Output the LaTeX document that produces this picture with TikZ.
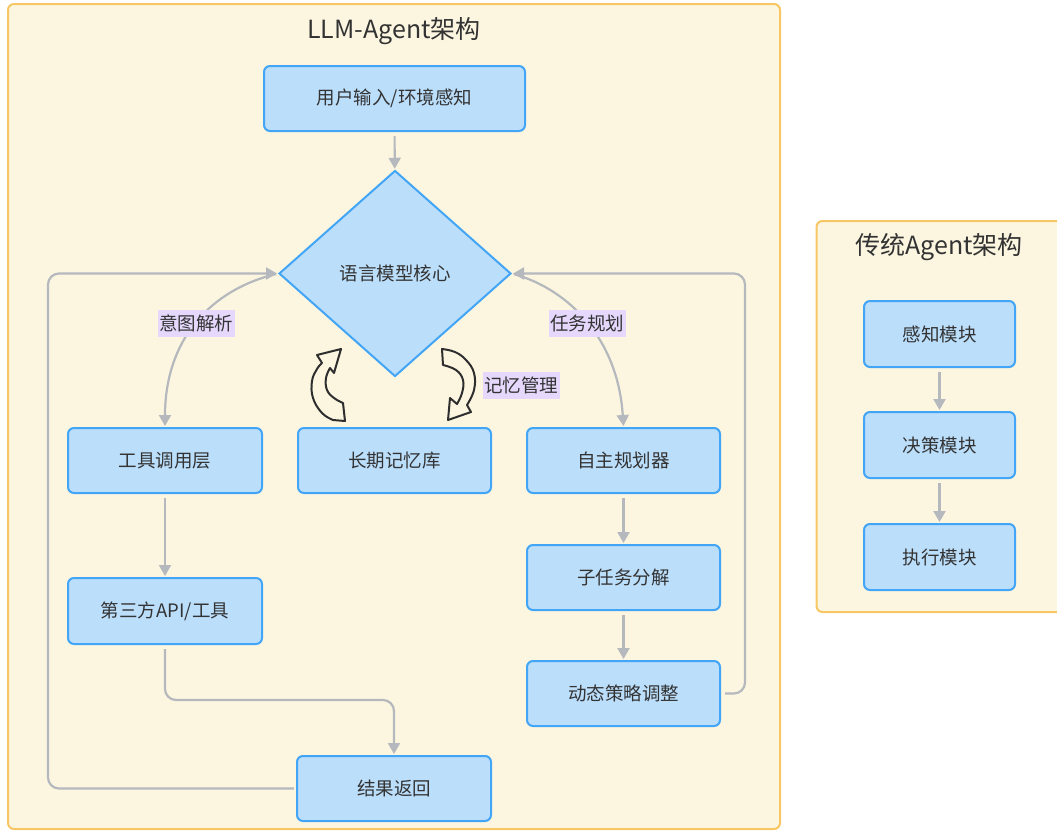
\documentclass[tikz,border=0pt]{standalone}
\usepackage{fontspec}
\setmainfont{Noto Sans CJK SC}
\usetikzlibrary{arrows.meta,shapes.geometric}
\definecolor{cfill}{HTML}{FCF6E0}
\definecolor{cstroke}{HTML}{F8C765}
\definecolor{nfill}{HTML}{BBDEFB}
\definecolor{nstroke}{HTML}{42A5F5}
\definecolor{ecol}{HTML}{B5B8BD}
\definecolor{lfill}{HTML}{E5D8FC}
\definecolor{tcol}{HTML}{333333}
\begin{document}
\begin{tikzpicture}[x=1pt,y=-1pt,
  container/.style={draw=cstroke, fill=cfill, line width=2pt, rounded corners=6pt},
  ctitle/.style={text=tcol, font=\fontsize{25}{30}\selectfont, inner sep=0pt},
  box/.style={draw=nstroke, fill=nfill, line width=2pt, rounded corners=6pt, minimum height=65pt, inner sep=0pt, text=tcol, font=\fontsize{18.5}{22}\selectfont},
  core/.style={shape=diamond, draw=nstroke, fill=nfill, line width=2pt, minimum width=232pt, minimum height=206pt, inner sep=0pt, text=tcol, font=\fontsize{18.5}{22}\selectfont},
  edge/.style={draw=ecol, line width=2.2pt, -{Triangle[length=11pt,width=12pt]}, shorten <=4pt, shorten >=1pt},
  loopedge/.style={edge, rounded corners=11pt},
  elabel/.style={fill=lfill, text=tcol, font=\fontsize{18.5}{22}\selectfont, inner xsep=1.5pt, inner ysep=0pt, minimum height=27pt},
  memarrow/.style={draw=black!82, line width=2pt, line join=round},
]
\clip (0,0) rectangle (1057,830);
\fill[white] (0,0) rectangle (1057,830);

% containers
\draw[container] (8,4) rectangle (780,829);
\draw[container] (816.5,221) rectangle (1080,612);
\node[ctitle] (t1) at (394,31) {LLM-Agent架构};
\node[ctitle] (t2) at (939,247) {传统Agent架构};

% main nodes
\node[box, minimum width=261pt] (input) at (394.5,98.5) {用户输入/环境感知};
\node[core] (core) at (395,273.5) {语言模型核心};
\node[box, minimum width=194pt] (tool) at (165,460.5) {工具调用层};
\node[box, minimum width=193pt] (mem) at (394.5,460.5) {长期记忆库};
\node[box, minimum width=193pt] (plan) at (623.5,460.5) {自主规划器};
\node[box, minimum width=194pt, minimum height=66pt] (api) at (165,611) {第三方API/工具};
\node[box, minimum width=193pt] (sub) at (623.5,577.5) {子任务分解};
\node[box, minimum width=193pt] (strat) at (623.5,693.5) {动态策略调整};
\node[box, minimum width=194pt] (result) at (394,788.5) {结果返回};

% traditional nodes
\node[box, minimum width=151pt, minimum height=66pt] (perc) at (939.5,334) {感知模块};
\node[box, minimum width=151pt, minimum height=66pt] (dec) at (939.5,445) {决策模块};
\node[box, minimum width=151pt, minimum height=66pt] (exe) at (939.5,557) {执行模块};

% edges
\draw[edge] (input) -- (core);
\draw[edge, shorten <=2pt] (core.west) .. controls (210,290) and (165,340) .. (tool.north)
  node[elabel, pos=0.5] (l1) {意图解析};
\draw[edge, shorten <=2pt] (core.east) .. controls (570,290) and (618,340) .. (plan.north)
  node[elabel, pos=0.5] (l2) {任务规划};
\draw[edge] (tool) -- (api);
\draw[edge] (plan) -- (sub);
\draw[edge] (sub) -- (strat);
\draw[loopedge] (api.south) -- (165,700) -| (result.north);
\draw[loopedge, shorten <=2pt] (result.west) -| (48,273.5) -- (core.west);
\draw[loopedge, shorten <=4pt] (strat.east) -| (745,273.5) -- (core.east);
\draw[edge] (perc) -- (dec);
\draw[edge] (dec) -- (exe);

% memory management circular arrows
\draw[memarrow] (333,420) -- plot[smooth, tension=0.7] coordinates {(333,420) (322,413) (313,398) (312,381) (317,369) (322,363)}
  -- (317,355) -- (341,349) -- (334,373)
  -- plot[smooth, tension=0.7] coordinates {(330,368) (326,378) (327,390) (334,398) (343,403)}
  -- (345,421) -- cycle;
\draw[memarrow] (442,349) -- plot[smooth, tension=0.7] coordinates {(442,349) (455,352) (466,360) (474,373) (474,390) (467,405)}
  -- (471,412) -- (448,420) -- (450,398)
  -- plot[smooth, tension=0.7] coordinates {(457,404) (462,393) (463,380) (456,370) (443,365)}
  -- cycle;
\node[elabel] (l3) at (521,385) {记忆管理};
\end{tikzpicture}
\end{document}
